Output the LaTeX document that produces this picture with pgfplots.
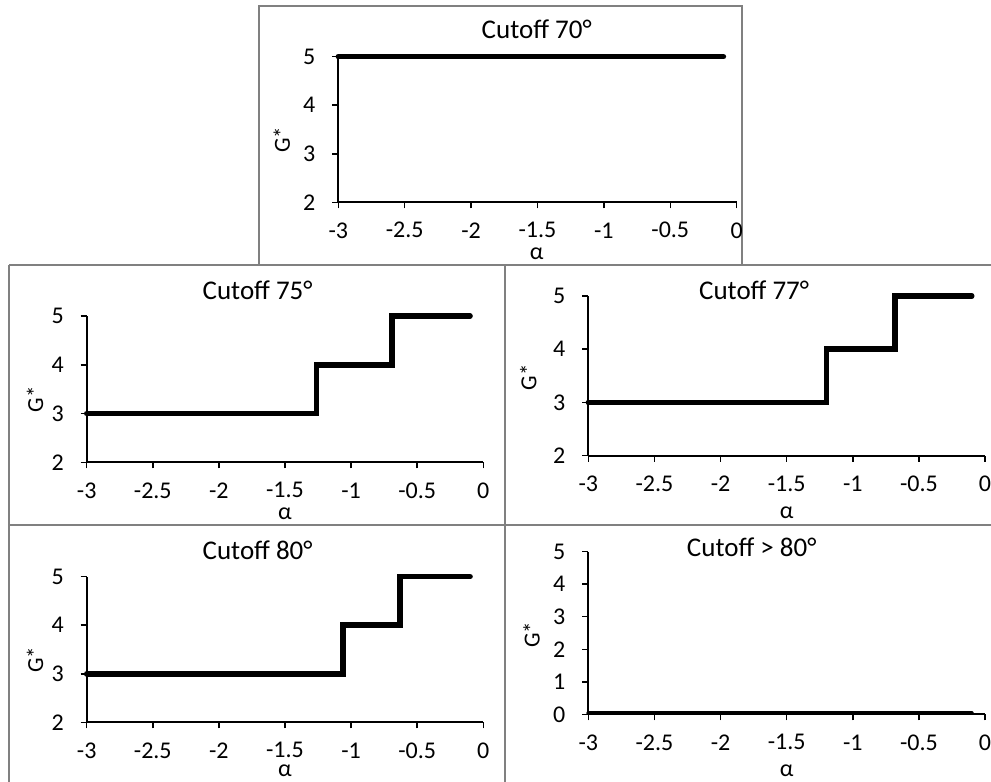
\documentclass[border=0pt]{standalone}
\usepackage{pgfplots}
\pgfplotsset{compat=1.18}
\usepackage{fontspec}
\setmainfont{Carlito}
\definecolor{framegray}{HTML}{808080}
\pgfplotsset{
  panel/.style={
    scale only axis,
    axis lines=left,
    x axis line style={-, line width=2bp},
    y axis line style={-, line width=2bp},
    tick align=outside,
    major tick length=6bp,
    every tick/.style={black, line width=1.5bp},
    xmin=-3, xmax=0,
    xtick={-3,-2.5,-2,-1.5,-1,-0.5,0},
    xticklabels={-3,-2.5,-2,-1.5,-1,-0.5,0},
    xticklabel style={font=\fontsize{24bp}{28bp}\selectfont, anchor=center, yshift=-22bp, inner sep=0pt},
    yticklabel style={font=\fontsize{24bp}{28bp}\selectfont, anchor=center, xshift=-23bp, inner sep=0pt},
    xlabel={α},
    ylabel={G*},
    xlabel style={font=\fontsize{24bp}{28bp}\selectfont, anchor=center, inner sep=0pt},
    ylabel style={font=\fontsize{23bp}{27bp}\selectfont, anchor=center, inner sep=0pt},
    title style={font=\fontsize{27bp}{31bp}\selectfont, anchor=center, inner sep=0pt},
    clip=false,
    anchor=south west,
  },
  stepline/.style={black, line width=5.5bp, line cap=round, line join=miter, mark=none},
}
\begin{document}
\begin{tikzpicture}
\useasboundingbox (0,0) rectangle (991bp,-782bp);
\begin{scope}[x=1bp, y=-1bp, framegray, line width=1.2bp]
  \draw (259,6) rectangle (742,265);
  \draw (9,265) -- (991,265);
  \draw (9,525) -- (991,525);
  \draw (9,265) -- (9,782);
  \draw (505,265) -- (505,782);
\end{scope}

% Panel 1: Cutoff 70
\begin{axis}[panel, at={(338.3bp,-202.3bp)}, width=398.4bp, height=145.6bp,
  ymin=2, ymax=5, ytick={2,3,4,5}, yticklabels={2,3,4,5},
  title={Cutoff 70°}, title style={at={(0.498,1.149)}},
  xlabel style={at={(0.498,-0.35)}}, ylabel style={at={(-0.142,0.43)}}]
\addplot[stepline] coordinates {(-3,5) (-0.1,5)};
\end{axis}

% Panel 2: Cutoff 75
\begin{axis}[panel, at={(86.7bp,-462.3bp)}, width=396.6bp, height=146.3bp,
  ymin=2, ymax=5, ytick={2,3,4,5}, yticklabels={2,3,4,5},
  title={Cutoff 75°}, title style={at={(0.431,1.134)}},
  xlabel style={at={(0.5,-0.35)}}, ylabel style={at={(-0.13,0.43)}}]
\addplot[stepline] coordinates {(-3,3) (-1.26,3) (-1.26,4) (-0.69,4) (-0.69,5) (-0.1,5)};
\end{axis}

% Panel 3: Cutoff 77
\begin{axis}[panel, at={(588.3bp,-455.7bp)}, width=396.7bp, height=159.7bp,
  ymin=2, ymax=5, ytick={2,3,4,5}, yticklabels={2,3,4,5},
  title={Cutoff 77°}, title style={at={(0.418,0.996)}},
  xlabel style={at={(0.5,-0.355)}}, ylabel style={at={(-0.151,0.49)}}]
\addplot[stepline] coordinates {(-3,3) (-1.2,3) (-1.2,4) (-0.68,4) (-0.68,5) (-0.1,5)};
\end{axis}

% Panel 4: Cutoff 80
\begin{axis}[panel, at={(86.7bp,-722.3bp)}, width=396.6bp, height=145.6bp,
  ymin=2, ymax=5, ytick={2,3,4,5}, yticklabels={2,3,4,5},
  title={Cutoff 80°}, title style={at={(0.431,1.138)}},
  xlabel style={at={(0.5,-0.33)}}, ylabel style={at={(-0.13,0.43)}}]
\addplot[stepline] coordinates {(-3,3) (-1.06,3) (-1.06,4) (-0.63,4) (-0.63,5) (-0.1,5)};
\end{axis}

% Panel 5: Cutoff > 80
\begin{axis}[panel, at={(588.3bp,-714.3bp)}, width=396.7bp, height=162.6bp,
  ymin=0, ymax=5, ytick={0,1,2,3,4,5}, yticklabels={0,1,2,3,4,5},
  title={Cutoff > 80°}, title style={at={(0.412,0.991)}},
  xlabel style={at={(0.5,-0.345)}}, ylabel style={at={(-0.143,0.49)}}]
\addplot[stepline, line width=4bp] coordinates {(-3,0.03) (-0.1,0.03)};
\end{axis}
\end{tikzpicture}
\end{document}
